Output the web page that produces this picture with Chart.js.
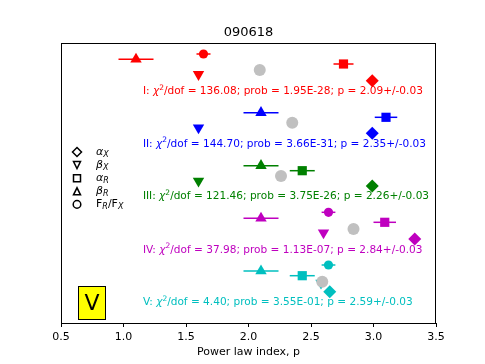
<!DOCTYPE html>
<html>
<head>
<meta charset="utf-8">
<script src="https://cdn.jsdelivr.net/npm/chart.js@4"></script>
<style>
  html, body { margin: 0; padding: 0; background: #fff; }
  #wrap { width: 485px; height: 364px; }
</style>
</head>
<body>
<div id="wrap"><canvas id="c" width="485" height="364"></canvas></div>
<script>
// ===============================
// DATA
// ===============================
const groups = ["I", "II", "III", "IV", "V"];
const chi2dof = ["136.08", "144.70", "121.46", "37.98", "4.40"];
const prob = ["1.95E-28", "3.66E-31", "3.75E-26", "1.13E-07", "3.55E-01"];
const fitP = [2.09, 2.35, 2.26, 2.84, 2.59];
const fitErr = "0.03";

// vertical position of each row (arbitrary offsets, no y axis drawn)
const fitY   = [25.3, 20.03, 14.7, 9.4, 4.13];
const textY  = [23.13, 17.9, 12.63, 7.3, 2.03];

const alphaX  = [2.99, 2.99, 2.99, 3.33, 2.65];
const alphaXY = [24.23, 18.97, 13.7, 8.4, 3.13];

const betaX  = [1.60, 1.60, 1.60, 2.60, 2.58];
const betaXY = [24.87, 19.53, 14.2, 9.03, 4.0];

const alphaR    = [2.76, 3.10, 2.43, 3.09, 2.43];
const alphaRErr = [0.08, 0.09, 0.10, 0.09, 0.10];
const alphaRY   = [25.9, 20.57, 15.23, 10.07, 4.73];

const betaR    = [1.10, 2.10, 2.10, 2.10, 2.10];
const betaRErr = [0.14, 0.14, 0.14, 0.14, 0.14];
const betaRY   = [26.37, 21.03, 15.73, 10.47, 5.2];

const ratio    = [1.64, null, null, 2.64, 2.64];
const ratioErr = [0.056, null, null, 0.055, 0.055];
const ratioY   = [26.9, null, null, 11.07, 5.8];

const xTicks = [0.5, 1.0, 1.5, 2.0, 2.5, 3.0, 3.5];

// ===============================
// STYLE
// ===============================
const colors = ["#ff0000", "#0000ff", "#008000", "#bf00bf", "#00bfbf"];
const grey = "#c0c0c0";
const FONT = "'DejaVu Sans', sans-serif";

function pts(xs, ys) {
    const out = [];
    xs.forEach((x, i) => { if (x !== null) out.push({ x: x, y: ys[i], g: i }); });
    return out;
}
function cols(xs) {
    return xs.map((x, i) => colors[i]).filter((c, i) => xs[i] !== null);
}
function errs(xs, e) {
    return e.filter((v, i) => xs[i] !== null);
}

// gray first so it is drawn on top
const datasets = [
    { label: "fit", data: pts(fitP, fitY), pointStyle: "circle", pointRadius: 6,
      backgroundColor: grey, borderWidth: 0 },
    { label: "F_R/F_X", data: pts(ratio, ratioY), pointStyle: "circle", pointRadius: 4.6,
      backgroundColor: cols(ratio), borderWidth: 0, xErr: errs(ratio, ratioErr) },
    { label: "alpha_X", data: pts(alphaX, alphaXY), pointStyle: "rectRot", pointRadius: 6.5,
      backgroundColor: cols(alphaX), borderWidth: 0 },
    { label: "beta_X", data: pts(betaX, betaXY), pointStyle: "triangle", pointRadius: 6.6,
      rotation: 180, backgroundColor: cols(betaX), borderWidth: 0 },
    { label: "alpha_R", data: pts(alphaR, alphaRY), pointStyle: "rect", pointRadius: 6.5,
      backgroundColor: cols(alphaR), borderWidth: 0, xErr: errs(alphaR, alphaRErr) },
    { label: "beta_R", data: pts(betaR, betaRY), pointStyle: "triangle", pointRadius: 6.6,
      backgroundColor: cols(betaR), borderWidth: 0, xErr: errs(betaR, betaRErr) }
];

// draw a list of [text, style, dy, size] segments left to right
function drawRich(ctx, segs, x, y, color, base) {
    ctx.fillStyle = color;
    ctx.textBaseline = "middle";
    ctx.textAlign = "left";
    let cx = x;
    segs.forEach(s => {
        const size = s[3] || base || 11;
        ctx.font = (s[1] || "") + " " + size + "px " + FONT;
        ctx.fillText(s[0], cx, y + (s[2] || 0));
        cx += ctx.measureText(s[0]).width;
    });
}

// ===============================
// PLUGIN: error bars, texts, legend, box
// ===============================
const extras = {
    id: "extras",
    beforeDatasetsDraw(chart) {
        const ctx = chart.ctx;
        const xs = chart.scales.x, ys = chart.scales.y;
        ctx.save();
        ctx.lineWidth = 1.5;
        chart.data.datasets.forEach(ds => {
            if (!ds.xErr) return;
            ds.data.forEach((p, i) => {
                const e = ds.xErr[i];
                const y = ys.getPixelForValue(p.y);
                ctx.strokeStyle = colors[p.g];
                ctx.beginPath();
                ctx.moveTo(xs.getPixelForValue(p.x - e), y);
                ctx.lineTo(xs.getPixelForValue(p.x + e), y);
                ctx.stroke();
            });
        });
        ctx.restore();
    },
    afterDraw(chart) {
        const ctx = chart.ctx;
        const a = chart.chartArea;
        const xs = chart.scales.x, ys = chart.scales.y;
        ctx.save();

        // frame
        ctx.strokeStyle = "#000";
        ctx.lineWidth = 1;
        ctx.strokeRect(a.left + 0.5, a.top + 0.5, a.right - a.left - 1, a.bottom - a.top);

        // title
        ctx.fillStyle = "#000";
        ctx.font = "13px " + FONT;
        ctx.textAlign = "center";
        ctx.textBaseline = "middle";
        ctx.fillText("090618", (a.left + a.right) / 2, a.top - 10);

        // fit statistics text
        const tx = xs.getPixelForValue(1.155);
        groups.forEach((g, i) => {
            drawRich(ctx, [
                [g + ": "], ["\u03c7", "italic"], ["2", "", -4, 7.5],
                ["/dof = " + chi2dof[i] + "; prob = " + prob[i] + "; p = " + fitP[i].toFixed(2) + "+/-" + fitErr]
            ], tx, ys.getPixelForValue(textY[i]), colors[i], 10.55);
        });

        // legend
        const lx = a.left + 16, ltx = a.left + 35;
        const rows = [
            { style: "diamond", label: [["\u03b1", "italic"], ["X", "italic", 3, 8]] },
            { style: "down", label: [["\u03b2", "italic"], ["X", "italic", 3, 8]] },
            { style: "square", label: [["\u03b1", "italic"], ["R", "italic", 3, 8]] },
            { style: "up", label: [["\u03b2", "italic"], ["R", "italic", 3, 8]] },
            { style: "circle", label: [["F"], ["R", "italic", 3, 8], ["/F"], ["X", "italic", 3, 8]] }
        ];
        const ly0 = a.top + 109, ldy = 13.1;
        rows.forEach((r, i) => {
            const y = ly0 + i * ldy;
            ctx.strokeStyle = "#000";
            ctx.fillStyle = "#fff";
            ctx.lineWidth = 1.5;
            ctx.beginPath();
            if (r.style === "diamond") {
                ctx.moveTo(lx, y - 4.5); ctx.lineTo(lx + 4.5, y); ctx.lineTo(lx, y + 4.5); ctx.lineTo(lx - 4.5, y); ctx.closePath();
            } else if (r.style === "down") {
                ctx.moveTo(lx - 3.5, y - 3.5); ctx.lineTo(lx + 3.5, y - 3.5); ctx.lineTo(lx, y + 3.5); ctx.closePath();
            } else if (r.style === "up") {
                ctx.moveTo(lx - 3.5, y + 3.5); ctx.lineTo(lx + 3.5, y + 3.5); ctx.lineTo(lx, y - 3.5); ctx.closePath();
            } else if (r.style === "square") {
                ctx.rect(lx - 3.5, y - 3.5, 7, 7);
            } else {
                ctx.arc(lx, y, 3.8, 0, Math.PI * 2);
            }
            ctx.fill();
            ctx.stroke();
            drawRich(ctx, r.label, ltx, y, "#000");
        });

        // yellow box
        const bx = a.left + 17, by = a.bottom - 37, bw = 28, bh = 34;
        ctx.fillStyle = "#ffff00";
        ctx.fillRect(bx, by, bw, bh);
        ctx.strokeStyle = "#000";
        ctx.lineWidth = 1;
        ctx.strokeRect(bx + 0.5, by + 0.5, bw - 1, bh - 1);
        ctx.fillStyle = "#000";
        ctx.font = "22px " + FONT;
        ctx.textAlign = "center";
        ctx.textBaseline = "middle";
        ctx.fillText("V", bx + bw / 2, by + bh / 2 + 1);

        ctx.restore();
    }
};

new Chart(document.getElementById("c").getContext("2d"), {
    type: "scatter",
    data: { datasets },
    options: {
        responsive: false,
        animation: false,
        devicePixelRatio: 1,
        layout: { padding: { left: 61, right: 49, top: 43, bottom: 5 } },
        plugins: { legend: { display: false }, tooltip: { enabled: false }, title: { display: false } },
        elements: { point: { hoverRadius: 6 } },
        scales: {
            x: {
                type: "linear",
                min: 0.5,
                max: 3.5,
                afterBuildTicks: s => { s.ticks = xTicks.map(v => ({ value: v })); },
                afterFit: s => { s.height = 36; },
                ticks: {
                    color: "#000",
                    font: { family: FONT, size: 11 },
                    padding: 4,
                    maxRotation: 0,
                    callback: v => Number(v).toFixed(1)
                },
                grid: { drawOnChartArea: false, tickLength: 4, color: "#000" },
                border: { color: "#000", width: 1 },
                title: {
                    display: true,
                    text: "Power law index, p",
                    color: "#000",
                    font: { family: FONT, size: 11 },
                    padding: { top: 1, bottom: 0 }
                }
            },
            y: { display: false, min: 0, max: 28 }
        }
    },
    plugins: [extras]
});
</script>
</body>
</html>
